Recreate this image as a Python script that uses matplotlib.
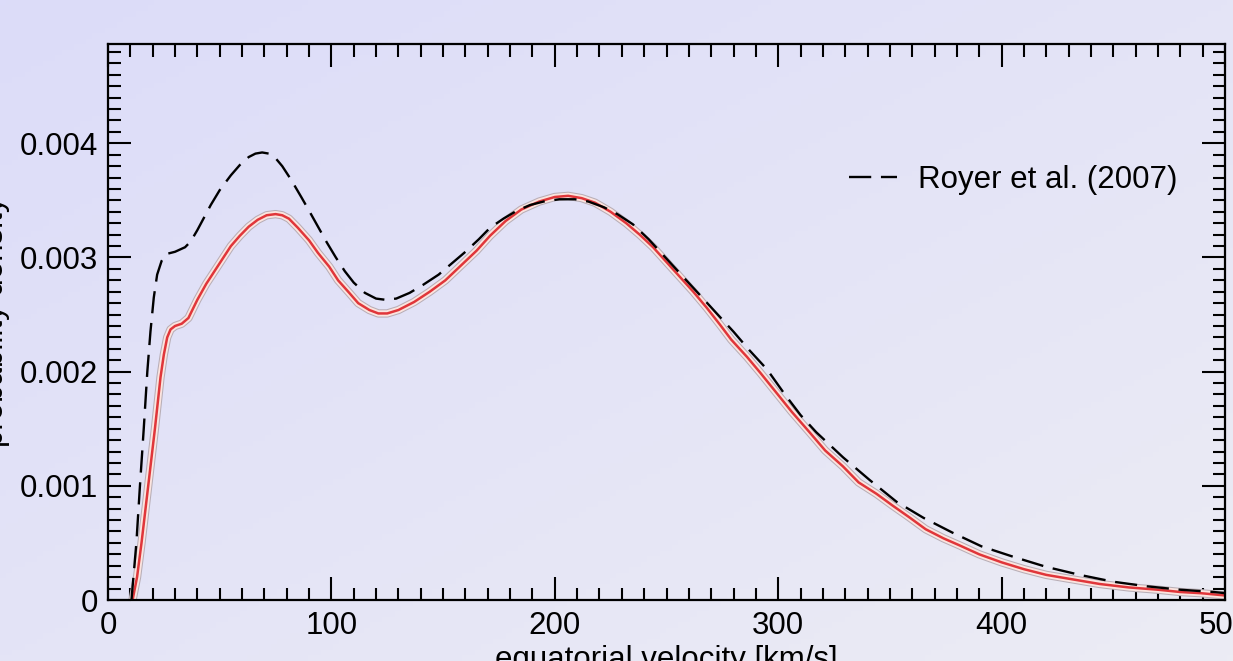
import numpy as np
import matplotlib
matplotlib.use("Agg")
import matplotlib.pyplot as plt
from matplotlib.ticker import MultipleLocator, FixedLocator, FixedFormatter

plt.rcParams['font.family'] = ['Liberation Sans', 'DejaVu Sans']
plt.rcParams['lines.scale_dashes'] = False

# fitted distribution (red, solid), values in 1e-3
fit_v = [11, 13, 15, 18, 21, 23.5, 25, 26.5, 28, 30, 33, 36, 40, 44, 48, 52, 55,
         59, 63, 67, 71, 75, 78, 81, 85, 90, 94, 99, 103, 108, 112, 117, 121, 125,
         130, 137, 144, 151, 158, 165, 171, 178, 185, 193, 200, 206, 212, 218,
         225, 232, 238, 244, 250, 256, 262, 268, 274, 279, 286, 292, 299, 306,
         314, 321, 329, 336, 344, 351, 359, 366, 374, 381, 390, 400, 410, 420,
         432, 444, 457, 470, 480, 489, 500]
fit_p = [0, 0.2, 0.5, 1.0, 1.5, 1.95, 2.15, 2.3, 2.37, 2.40, 2.42, 2.47, 2.63,
         2.77, 2.89, 3.01, 3.10, 3.19, 3.27, 3.33, 3.37, 3.38, 3.37, 3.34, 3.26,
         3.15, 3.04, 2.92, 2.80, 2.69, 2.60, 2.54, 2.51, 2.51, 2.54, 2.61, 2.70,
         2.80, 2.93, 3.06, 3.19, 3.32, 3.42, 3.49, 3.53, 3.54, 3.52, 3.48, 3.40,
         3.30, 3.20, 3.09, 2.96, 2.83, 2.70, 2.56, 2.41, 2.28, 2.13, 1.99, 1.82,
         1.65, 1.47, 1.31, 1.17, 1.03, 0.93, 0.83, 0.72, 0.62, 0.54, 0.48, 0.40,
         0.33, 0.27, 0.22, 0.18, 0.14, 0.11, 0.09, 0.07, 0.06, 0.04]

# Royer et al. (2007), dashed, values in 1e-3
roy_v = [10.5, 12.7, 14.3, 16, 17.6, 19, 20.5, 22, 24, 26, 30, 34.5, 37, 40, 43,
         46, 50, 55, 59, 63, 66, 69, 72, 75, 78, 82, 86.5, 90, 94, 98, 102, 106,
         110, 115, 120, 124, 129, 135, 141, 148, 154, 160, 166, 171, 177, 183,
         189, 195, 202, 209, 215, 222, 228, 235, 242, 250, 257, 265, 272, 280,
         287, 295, 303, 310, 317, 329, 341, 353, 365, 378, 391, 405, 420, 435,
         450, 465, 480, 495, 500]
roy_p = [0, 0.5, 1.0, 1.5, 2.0, 2.35, 2.65, 2.85, 2.97, 3.03, 3.05, 3.09, 3.14,
         3.24, 3.35, 3.46, 3.59, 3.72, 3.81, 3.88, 3.91, 3.92, 3.91, 3.87, 3.80,
         3.68, 3.53, 3.41, 3.27, 3.13, 3.00, 2.88, 2.78, 2.69, 2.64, 2.63, 2.64,
         2.69, 2.76, 2.85, 2.95, 3.05, 3.16, 3.26, 3.34, 3.41, 3.46, 3.49, 3.51,
         3.51, 3.49, 3.44, 3.38, 3.29, 3.16, 2.99, 2.84, 2.67, 2.52, 2.35, 2.19,
         2.02, 1.80, 1.62, 1.47, 1.25, 1.05, 0.86, 0.72, 0.59, 0.47, 0.38, 0.29,
         0.22, 0.16, 0.12, 0.09, 0.07, 0.06]

y_ticks = [0, 0.001, 0.002, 0.003, 0.004]
y_labels = ['0', '0.001', '0.002', '0.003', '0.004']
x_ticks = [0, 100, 200, 300, 400, 500]

fit_p = np.array(fit_p) * 1e-3
roy_p = np.array(roy_p) * 1e-3

fig = plt.figure(figsize=(12.33, 6.61), dpi=100)

# lavender gradient background
bg = fig.add_axes([0, 0, 1, 1])
gx, gy = np.meshgrid(np.linspace(0, 1, 200), np.linspace(0, 1, 120))
t = (gx + gy) / 2
c0 = np.array([220, 220, 249]) / 255
c1 = np.array([236, 236, 244]) / 255
img = c0[None, None, :] * (1 - t[..., None]) + c1[None, None, :] * t[..., None]
bg.imshow(img, aspect='auto', extent=[0, 1, 0, 1], origin='upper')
bg.axis('off')

ax = fig.add_axes([108 / 1233, 1 - 600 / 661, 1117 / 1233, 556 / 661])
ax.patch.set_alpha(0)

ax.plot(fit_v, fit_p, color='#b8aeb6', lw=6, solid_capstyle='round', solid_joinstyle='round')
ax.plot(fit_v, fit_p, color='#fbe4df', lw=4.5, solid_capstyle='round', solid_joinstyle='round')
ax.plot(fit_v, fit_p, color='#e0363a', lw=1.8, solid_joinstyle='round')
ax.plot(roy_v, roy_p, color='black', lw=1.7, dashes=(16, 7),
        label='Royer et al. (2007)')

ax.set_xlim(0, 500)
ax.set_ylim(0, 0.00487)

ax.xaxis.set_major_locator(FixedLocator(x_ticks))
ax.xaxis.set_minor_locator(MultipleLocator(10))
ax.yaxis.set_major_locator(FixedLocator(y_ticks))
ax.yaxis.set_major_formatter(FixedFormatter(y_labels))
ax.yaxis.set_minor_locator(MultipleLocator(0.0001))

ax.tick_params(which='both', direction='in', top=True, right=True, width=1.5,
               color='black')
ax.tick_params(which='major', length=16.5, labelsize=22.5)
ax.tick_params(which='minor', length=9)
ax.tick_params(axis='x', pad=8)
ax.tick_params(axis='y', pad=7)
for s in ax.spines.values():
    s.set_linewidth(1.6)

leg = ax.legend(loc='center right', bbox_to_anchor=((1177 - 108) / 1117, (600 - 180) / 556),
                frameon=False, fontsize=22.5, handlelength=1.55, handletextpad=0.65,
                borderpad=0, borderaxespad=0)

fig.text(10 / 1233, 1 - 322 / 661, 'probability density', rotation=90,
         ha='right', va='center', fontsize=22.5)
fig.text(666 / 1233, 1 - 645 / 661, 'equatorial velocity [km/s]',
         ha='center', va='top', fontsize=22.5)

fig.savefig('out.png', dpi=100)
